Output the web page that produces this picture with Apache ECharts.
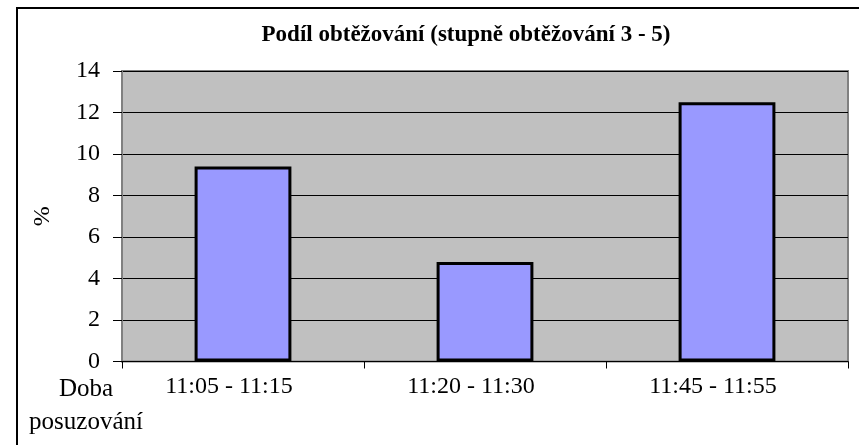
<!DOCTYPE html>
<html>
<head>
<meta charset="utf-8">
<script src="https://cdn.jsdelivr.net/npm/echarts@6/dist/echarts.min.js"></script>
<style>
  html, body { margin: 0; padding: 0; background: #fff; }
  #chart { width: 859px; height: 445px; }
</style>
</head>
<body>
<div id="chart"></div>
<script>
// data
var categories = ['11:05 - 11:15', '11:20 - 11:30', '11:45 - 11:55'];
var podil = [9.4, 4.8, 12.5];
var yTicks = [0, 2, 4, 6, 8, 10, 12, 14];

var chart = echarts.init(document.getElementById('chart'));
var serif = '"Liberation Serif", "DejaVu Serif", serif';

var option = {
  backgroundColor: '#fff',
  animation: false,
  title: {
    text: 'Podíl obtěžování (stupně obtěžování 3 - 5)',
    left: 461,
    textAlign: 'center',
    top: 19,
    textStyle: { fontFamily: serif, fontWeight: 'bold', fontSize: 23, color: '#000' }
  },
  grid: {
    left: 122,
    right: 11,
    top: 71,
    bottom: 83.5,
    show: true,
    backgroundColor: '#c0c0c0',
    borderColor: '#808080',
    borderWidth: 2
  },
  xAxis: {
    type: 'category',
    data: categories,
    axisLine: { lineStyle: { color: '#000', width: 1 } },
    axisTick: { show: true, length: 7, lineStyle: { color: '#000' } },
    // labels sit a little left of the category centre in the original
    axisLabel: { fontFamily: serif, fontSize: 24, color: '#000', margin: 13, padding: [0, 28, 0, 0] }
  },
  yAxis: {
    type: 'value',
    min: yTicks[0],
    max: yTicks[yTicks.length - 1],
    interval: 2,
    name: '%',
    nameLocation: 'middle',
    nameRotate: 90,
    nameGap: 67,
    nameTextStyle: { fontFamily: serif, fontSize: 24, color: '#000' },
    axisLine: { show: true, lineStyle: { color: '#808080', width: 2 } },
    axisTick: { show: true, length: 9, lineStyle: { color: '#000' } },
    axisLabel: { fontFamily: serif, fontSize: 24, color: '#000', margin: 22 },
    splitLine: { show: true, lineStyle: { color: '#000', width: 1 } }
  },
  graphic: [
    {
      type: 'rect',
      shape: { x: 17, y: 8, width: 900, height: 500 },
      style: { fill: null, stroke: '#000', lineWidth: 2 },
      silent: true
    },
    {
      type: 'text',
      x: 86,
      y: 373,
      style: {
        text: 'Doba\nposuzování',
        align: 'center',
        verticalAlign: 'top',
        font: '25px ' + serif,
        fill: '#000',
        lineHeight: 33
      }
    }
  ],
  series: [{
    type: 'bar',
    data: podil,
    barWidth: '40%',
    itemStyle: { color: '#9999ff', borderColor: '#000', borderWidth: 3 }
  }]
};
chart.setOption(option);
</script>
</body>
</html>
